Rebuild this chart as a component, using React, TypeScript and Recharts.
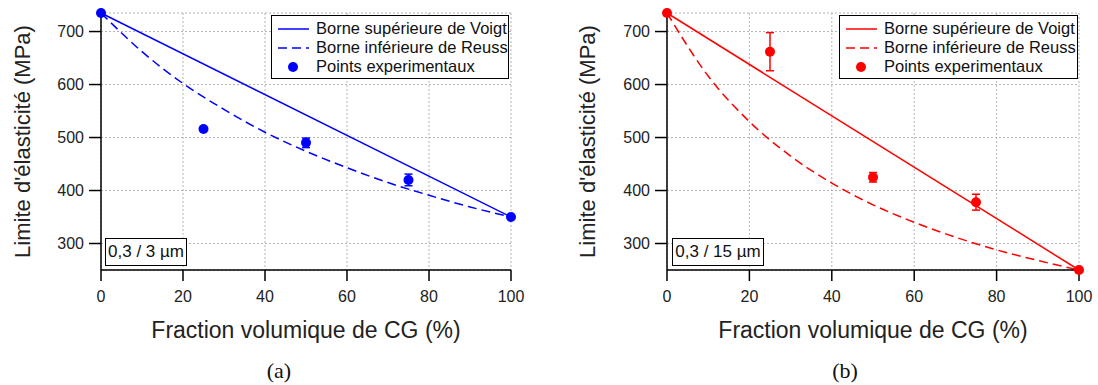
import { CartesianGrid, ComposedChart, ErrorBar, Legend, Line, Scatter, XAxis, YAxis } from 'recharts'

const FONT = '"Liberation Sans", Arial, sans-serif'

// volume fractions (%)
const voigtFractions = [0, 100]
const reussFractions = [0, 10, 20, 30, 40, 50, 60, 70, 80, 90, 100]
const expFractions = [0, 25, 50, 75, 100]

// panel (a) 0,3 / 3 µm
const voigtA = [735, 350]
const reussA = [735, 662, 602, 553, 510, 474, 443, 415, 391, 369, 350]
const expA = [735, 516, 490, 420, 350]
const errA = [0, 0, 9, 11, 0]

// panel (b) 0,3 / 15 µm
const voigtB = [735, 250]
const reussB = [735, 616, 530, 465, 414, 373, 340, 312, 288, 268, 250]
const expB = [735, 662, 425, 378, 250]
const errB = [0, 36, 9, 15, 0]

const xTicks = [0, 20, 40, 60, 80, 100]
const yTicks = [300, 400, 500, 600, 700]
const legendLabels = ['Borne supérieure de Voigt', 'Borne inférieure de Reuss', 'Points experimentaux']

const W = 549
const H = 345
const AXIS_Y = 270
const DASH = '9 5'

function LegendBox({ color, width }: { color: string; width: number }) {
  return (
    <div
      style={{
        border: '1.5px solid #000',
        background: '#fff',
        width,
        height: 64,
        boxSizing: 'border-box',
        fontFamily: FONT,
        fontSize: 16.5,
        color: '#111',
        padding: '3px 0 0 6px',
        overflow: 'hidden'
      }}
    >
      {legendLabels.map((label, i) => (
        <div key={label} style={{ display: 'flex', alignItems: 'center', height: 19, whiteSpace: 'nowrap' }}>
          <svg width={31} height={12} style={{ marginRight: 7, flex: 'none' }}>
            {i === 0 && <line x1={0} x2={31} y1={6} y2={6} stroke={color} strokeWidth={1.5} />}
            {i === 1 && (
              <line x1={0} x2={31} y1={6} y2={6} stroke={color} strokeWidth={1.5} strokeDasharray={DASH} />
            )}
            {i === 2 && <circle cx={15} cy={6} r={5} fill={color} />}
          </svg>
          <span>{label}</span>
        </div>
      ))}
    </div>
  )
}

type PanelProps = {
  color: string
  voigt: number[]
  reuss: number[]
  exp: number[]
  err: number[]
  tag: string
  tagLeft: number
  tagWidth: number
  plotLeft: number
  plotRight: number
  titleX: number
  legendLeft: number
  legendWidth: number
}

function Panel(p: PanelProps) {
  const voigtData = voigtFractions.map((x, i) => ({ x, y: p.voigt[i] }))
  const reussData = reussFractions.map((x, i) => ({ x, y: p.reuss[i] }))
  const expData = expFractions.map((x, i) => ({ x, y: p.exp[i], err: p.err[i] }))

  const yTitle = (props: any) => {
    const vb = props.viewBox ?? { y: 13, height: 257 }
    const cy = vb.y + vb.height / 2
    return (
      <text
        x={p.titleX}
        y={cy}
        transform={`rotate(-90 ${p.titleX} ${cy})`}
        textAnchor="middle"
        dominantBaseline="central"
        fontFamily={FONT}
        fontSize={22}
        fill="#222"
      >
        Limite d'élasticité (MPa)
      </text>
    )
  }

  const axisStroke = { stroke: '#000', strokeWidth: 1.5 }

  return (
    <div style={{ position: 'relative', width: W, height: H }}>
      <ComposedChart
        width={W}
        height={H}
        margin={{ top: 13, right: W - p.plotRight, left: 0, bottom: 0 }}
      >
        <CartesianGrid stroke="#b4b4b4" strokeDasharray="2 2" />
        <XAxis
          type="number"
          dataKey="x"
          domain={[0, 100]}
          ticks={xTicks}
          height={H - AXIS_Y}
          tickSize={11}
          tickMargin={10}
          axisLine={axisStroke}
          tickLine={axisStroke}
          tick={{ fill: '#222', fontSize: 16, fontFamily: FONT }}
          label={{
            value: 'Fraction volumique de CG (%)',
            position: 'insideBottom',
            offset: 7,
            fontSize: 23,
            fontFamily: FONT,
            fill: '#222'
          }}
        />
        <YAxis
          type="number"
          domain={[250, 735]}
          ticks={yTicks}
          width={p.plotLeft}
          tickSize={12}
          tickMargin={5}
          axisLine={axisStroke}
          tickLine={axisStroke}
          tick={{ fill: '#222', fontSize: 16, fontFamily: FONT }}
          label={yTitle}
        />
        <Line
          data={voigtData}
          dataKey="y"
          type="linear"
          stroke={p.color}
          strokeWidth={1.5}
          dot={false}
          isAnimationActive={false}
        />
        <Line
          data={reussData}
          dataKey="y"
          type="monotone"
          stroke={p.color}
          strokeWidth={1.5}
          strokeDasharray={DASH}
          dot={false}
          isAnimationActive={false}
        />
        <Scatter
          data={expData}
          dataKey="y"
          fill={p.color}
          isAnimationActive={false}
          shape={(s: any) => <circle cx={s.cx} cy={s.cy} r={5} fill={p.color} />}
        >
          <ErrorBar dataKey="err" direction="y" width={4} stroke={p.color} strokeWidth={1.5} />
        </Scatter>
        <Legend
          layout="vertical"
          align="center"
          verticalAlign="middle"
          wrapperStyle={{ left: p.legendLeft, top: 15, width: p.legendWidth, height: 64 }}
          content={() => <LegendBox color={p.color} width={p.legendWidth} />}
        />
      </ComposedChart>
      <div
        style={{
          position: 'absolute',
          left: p.tagLeft,
          top: 238,
          width: p.tagWidth,
          height: 28,
          boxSizing: 'border-box',
          border: '1.5px solid #000',
          background: '#fff',
          fontFamily: FONT,
          fontSize: 17,
          lineHeight: '25px',
          textAlign: 'center',
          color: '#111'
        }}
      >
        {p.tag}
      </div>
    </div>
  )
}

export default function App() {
  return (
    <div style={{ position: 'absolute', left: 0, top: 0, width: 1098, height: 385, background: '#fff' }}>
      <div style={{ position: 'absolute', left: 0, top: 0 }}>
        <Panel
          color="#0000ff"
          voigt={voigtA}
          reuss={reussA}
          exp={expA}
          err={errA}
          tag="0,3 / 3 µm"
          tagLeft={105}
          tagWidth={82}
          plotLeft={101}
          plotRight={511}
          titleX={22}
          legendLeft={271}
          legendWidth={238}
        />
      </div>
      <div style={{ position: 'absolute', left: W, top: 0 }}>
        <Panel
          color="#ff0000"
          voigt={voigtB}
          reuss={reussB}
          exp={expB}
          err={errB}
          tag="0,3 / 15 µm"
          tagLeft={123}
          tagWidth={92}
          plotLeft={118}
          plotRight={530}
          titleX={38}
          legendLeft={290}
          legendWidth={239}
        />
      </div>
      {[
        { text: '(a)', cx: 279 },
        { text: '(b)', cx: 845 }
      ].map((c) => (
        <div
          key={c.text}
          style={{
            position: 'absolute',
            left: c.cx - 30,
            width: 60,
            top: 359,
            textAlign: 'center',
            fontFamily: '"Liberation Serif", serif',
            fontSize: 22,
            lineHeight: '24px',
            color: '#111'
          }}
        >
          {c.text}
        </div>
      ))}
    </div>
  )
}
